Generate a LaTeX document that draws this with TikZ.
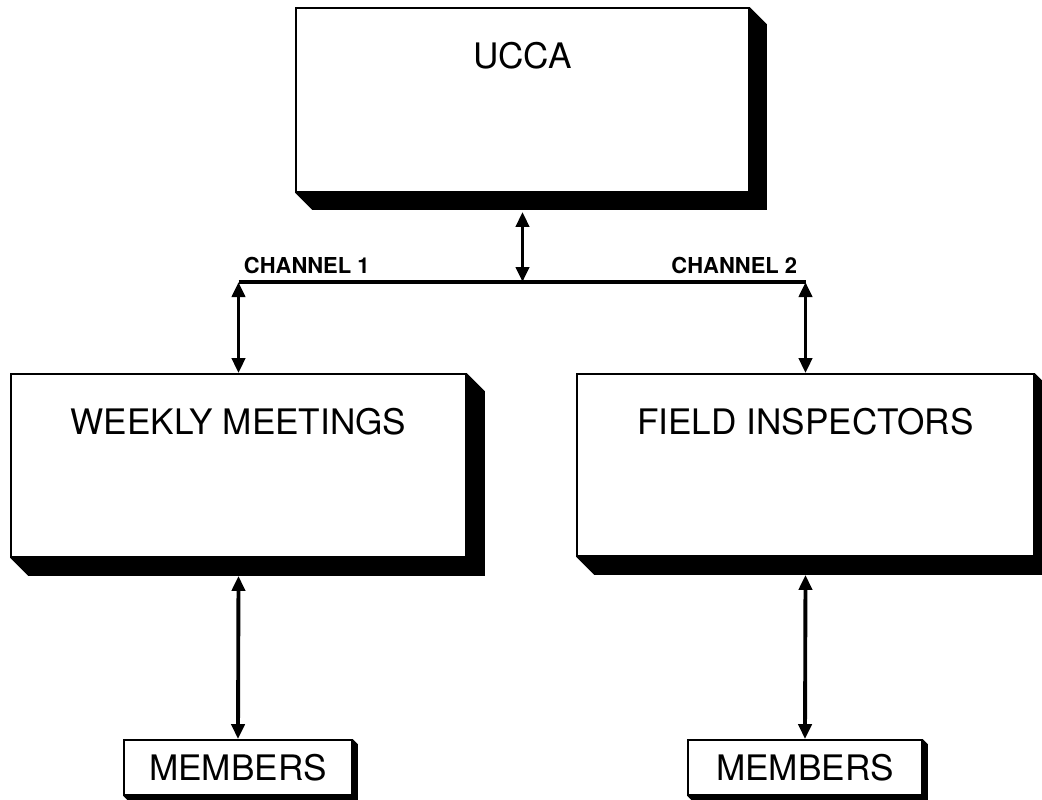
\documentclass[tikz,border=0pt]{standalone}
\usepackage{fontspec}
\setmainfont{TeX Gyre Heros}
\usepackage{tikz}
\usetikzlibrary{arrows.meta,calc}

% black drop shadow on the lower right of a box
\newcommand{\dropshadow}[2]{%
  \fill (#1.south west) -- ++(#2,#2) -| ($(#1.north east)+(#2,#2)$)
        -- (#1.north east) -- (#1.south east) -- cycle;}

\tikzset{
  bigbox/.style={draw, line width=1pt, fill=white, inner sep=0pt},
  smallbox/.style={draw, line width=1pt, fill=white, inner sep=0pt,
                   minimum height=1.1cm, font=\fontsize{20}{24}\selectfont},
  boxtitle/.style={anchor=north, inner sep=0pt, yshift=-0.7cm,
                   font=\fontsize{20}{24}\selectfont},
  link/.style={line width=2.2pt, {Triangle[length=0.3cm,width=0.26cm]}-{Triangle[length=0.3cm,width=0.26cm]}},
  bus/.style={line width=2.2pt},
  chan/.style={inner sep=0pt, font=\fontsize{12.5}{14}\selectfont\bfseries}
}

\begin{document}
\begin{tikzpicture}[x=0.02cm,y=-0.02cm]
            \useasboundingbox (0,0) rectangle (1042,799);

            \node[bigbox, minimum width=9.06cm, minimum height=3.68cm] (ucca) at (522.5,100) {};
            \node[boxtitle] at (ucca.north) {UCCA};
            \dropshadow{ucca}{17}

            \node[bigbox, minimum width=9.1cm, minimum height=3.66cm] (weekly) at (238.5,465.5) {};
            \node[boxtitle] at (weekly.north) {WEEKLY MEETINGS};
            \dropshadow{weekly}{18}

            \node[bigbox, minimum width=9.14cm, minimum height=3.64cm] (field) at (805.5,465) {};
            \node[boxtitle] at (field.north) {FIELD INSPECTORS};
            \dropshadow{field}{18}

            \node[smallbox, minimum width=4.56cm] (memleft) at (238,767.5) {MEMBERS};
            \dropshadow{memleft}{5}
            \node[smallbox, minimum width=4.68cm] (memright) at (805,767.5) {MEMBERS};
            \dropshadow{memright}{5}

            \coordinate (bus) at (522.5,282);
            \coordinate (chleft) at (weekly.north |- bus);
            \coordinate (chright) at (field.north |- bus);
            \draw[bus] (chleft) -- (chright);
            \node[chan, anchor=south west] at ($(chleft)+(5,-8)$) {CHANNEL 1};
            \node[chan, anchor=south east] at ($(chright)+(-8,-8)$) {CHANNEL 2};

            \draw[link] ($(ucca.south)+(0,19)$) -- (bus);
            \draw[link] (chleft) -- (weekly.north);
            \draw[link] (chright) -- (field.north);
            \draw[link] ($(weekly.south)+(0,18)$) -- (memleft.north);
            \draw[link] ($(field.south)+(0,18)$) -- (memright.north);
        \end{tikzpicture}
\end{document}
